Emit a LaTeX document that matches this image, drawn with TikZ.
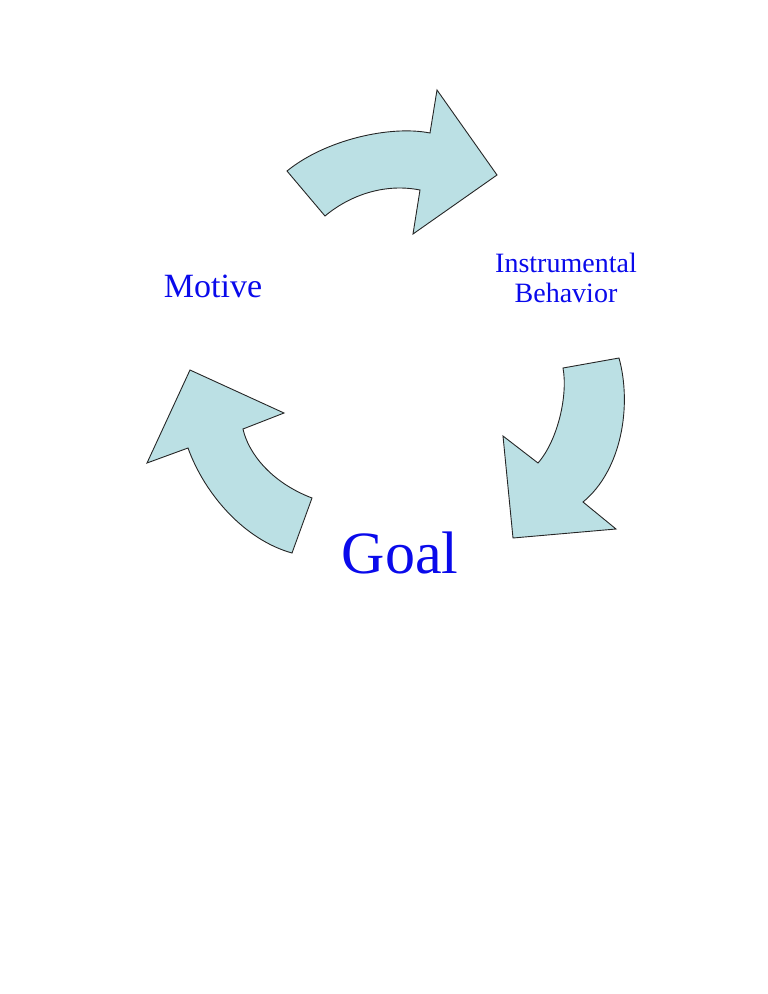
\documentclass[tikz,border=0pt]{standalone}
\usepackage{fontspec}
\setmainfont{Liberation Serif}
\usepackage{tikz}
\usetikzlibrary{positioning}
\definecolor{arrowfill}{RGB}{187,224,228}
\definecolor{labelblue}{RGB}{10,10,235}

\begin{document}
\begin{tikzpicture}[x=1pt, y=-1pt,
    cyclearrow/.style={fill=arrowfill, draw=black!85, line width=0.9pt, line join=miter},
    cyclelabel/.style={text=labelblue, inner sep=0pt, anchor=base}]
    \useasboundingbox (0,0) rectangle (768,994);
    % top arrow: Motive -> Instrumental Behavior
    \draw[cyclearrow] (287,171) .. controls (325,140) and (390,125) .. (430,133)
        -- (437,90) -- (497,175) -- (413,234) -- (420,190)
        .. controls (385,183) and (350,195) .. (325,216) -- cycle;
    % right arrow: Instrumental Behavior -> Goal
    \draw[cyclearrow] (619,358) .. controls (632,405) and (622,470) .. (583,502)
        -- (616,529) -- (513,538) -- (503,436) -- (538,463)
        .. controls (558,440) and (568,395) .. (563,368) -- cycle;
    % left arrow: Goal -> Motive
    \draw[cyclearrow] (292,553) .. controls (245,540) and (205,495) .. (188,448)
        -- (147,463) -- (190,370) -- (284,413) -- (243,429)
        .. controls (248,452) and (270,482) .. (312,498) -- cycle;
    \node[cyclelabel, font=\fontsize{34}{40}\selectfont] (motive) at (213,297) {Motive};
    \node[cyclelabel, font=\fontsize{28}{30}\selectfont] (instr) at (566,272) {Instrumental};
    \node[cyclelabel, font=\fontsize{28}{30}\selectfont, below=0pt of instr.base, anchor=base, yshift=-30pt] (behav) {Behavior};
    \node[cyclelabel, font=\fontsize{60}{70}\selectfont] (goal) at (400,573) {Goal};
\end{tikzpicture}
\end{document}
